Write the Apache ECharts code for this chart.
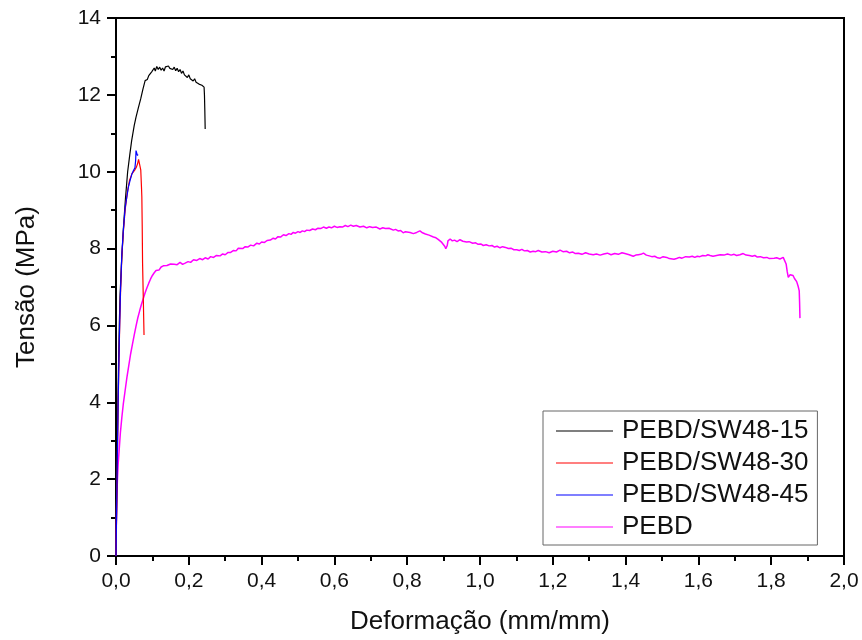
<!DOCTYPE html>
<html>
<head>
<meta charset="utf-8">
<script src="https://cdn.jsdelivr.net/npm/echarts@6/dist/echarts.min.js"></script>
<style>html,body{margin:0;padding:0;background:#fff;}#c{width:862px;height:640px;}</style>
</head>
<body>
<div id="c"></div>
<script>
const seriesNames = ['PEBD/SW48-15', 'PEBD/SW48-30', 'PEBD/SW48-45', 'PEBD'];
const xTicks = [0, 0.2, 0.4, 0.6, 0.8, 1.0, 1.2, 1.4, 1.6, 1.8, 2.0];
const yTicks = [0, 2, 4, 6, 8, 10, 12, 14];

const pebdSW15 = [[0,0],[0.002,1.5],[0.003,2.5],[0.005,3.8],[0.007,5.0],[0.009,6.0],[0.011,6.74],[0.015,7.6],[0.020,8.48],[0.026,9.3],[0.032,10.0],[0.038,10.45],[0.043,10.81],[0.05,11.2],[0.055,11.42],[0.061,11.65],[0.068,11.9],[0.074,12.15],[0.080,12.37],[0.083,12.42],[0.086,12.4],[0.09,12.5],[0.094,12.47],[0.098,12.6],[0.101,12.55],[0.105,12.7],[0.108,12.62],[0.112,12.74],[0.116,12.66],[0.12,12.72],[0.124,12.64],[0.128,12.7],[0.132,12.62],[0.136,12.73],[0.14,12.68],[0.144,12.75],[0.148,12.69],[0.152,12.74],[0.156,12.66],[0.16,12.72],[0.164,12.63],[0.168,12.69],[0.172,12.6],[0.176,12.66],[0.18,12.56],[0.184,12.62],[0.188,12.52],[0.192,12.55],[0.196,12.45],[0.2,12.52],[0.204,12.42],[0.208,12.46],[0.212,12.36],[0.216,12.42],[0.22,12.33],[0.224,12.37],[0.228,12.28],[0.232,12.33],[0.236,12.25],[0.240,12.28],[0.242,12.2],[0.243,12.0],[0.244,11.6],[0.245,11.11]];

const pebdSW30 = [[0,0],[0.003,2],[0.006,4],[0.009,5.5],[0.012,6.7],[0.016,7.79],[0.02,8.4],[0.025,9.0],[0.031,9.45],[0.037,9.77],[0.044,9.95],[0.052,10.05],[0.056,10.12],[0.059,10.2],[0.062,10.32],[0.064,10.36],[0.066,10.3],[0.068,10.05],[0.070,9.6],[0.071,9.34],[0.072,8.6],[0.073,7.62],[0.075,6.7],[0.077,5.75]];

const pebdSW45 = [[0,0],[0.003,2.1],[0.006,4.1],[0.009,5.6],[0.012,6.8],[0.016,7.85],[0.02,8.45],[0.025,9.05],[0.029,9.3],[0.034,9.6],[0.038,9.75],[0.044,9.95],[0.048,10.03],[0.052,10.1],[0.054,10.3],[0.055,10.55],[0.057,10.6],[0.059,10.42],[0.06,10.45]];

const pebd = [[0,0],[0.001,0.9],[0.002,1.5],[0.004,2.0],[0.006,2.4],[0.009,2.8],[0.012,3.2],[0.016,3.6],[0.020,3.95],[0.025,4.3],[0.030,4.65],[0.035,4.95],[0.040,5.25],[0.045,5.5],[0.050,5.75],[0.055,5.98],[0.060,6.2],[0.065,6.38],[0.070,6.55],[0.075,6.7],[0.080,6.85],[0.085,6.98],[0.090,7.1],[0.095,7.21],[0.100,7.3],[0.105,7.37],[0.110,7.43],[0.115,7.46],[0.118,7.44],[0.124,7.52],[0.130,7.55],[0.135,7.5],[0.140,7.56],[0.145,7.53],[0.150,7.6],[0.155,7.55],[0.160,7.59],[0.168,7.58],[0.176,7.64],[0.183,7.59],[0.19,7.62],[0.198,7.66],[0.205,7.64],[0.213,7.71],[0.222,7.69],[0.23,7.74],[0.238,7.71],[0.245,7.76],[0.253,7.73],[0.26,7.79],[0.268,7.77],[0.276,7.82],[0.286,7.81],[0.293,7.86],[0.30,7.84],[0.308,7.9],[0.315,7.9],[0.323,7.95],[0.33,7.94],[0.336,8.01],[0.341,8.03],[0.348,8.0],[0.355,8.05],[0.362,8.04],[0.37,8.09],[0.378,8.07],[0.387,8.14],[0.394,8.12],[0.40,8.17],[0.408,8.16],[0.415,8.21],[0.424,8.22],[0.432,8.27],[0.438,8.25],[0.445,8.31],[0.452,8.3],[0.460,8.36],[0.467,8.34],[0.475,8.39],[0.481,8.37],[0.487,8.42],[0.493,8.4],[0.50,8.44],[0.506,8.42],[0.512,8.46],[0.518,8.44],[0.524,8.48],[0.532,8.47],[0.54,8.51],[0.548,8.49],[0.555,8.53],[0.562,8.52],[0.570,8.56],[0.578,8.53],[0.585,8.56],[0.592,8.54],[0.60,8.58],[0.607,8.55],[0.615,8.57],[0.622,8.56],[0.63,8.6],[0.637,8.57],[0.645,8.61],[0.652,8.58],[0.66,8.6],[0.67,8.56],[0.68,8.58],[0.689,8.54],[0.697,8.57],[0.705,8.55],[0.715,8.56],[0.725,8.51],[0.733,8.54],[0.74,8.52],[0.75,8.53],[0.762,8.48],[0.768,8.5],[0.775,8.46],[0.782,8.47],[0.789,8.41],[0.795,8.44],[0.80,8.43],[0.808,8.42],[0.817,8.39],[0.826,8.42],[0.835,8.46],[0.842,8.41],[0.85,8.38],[0.86,8.35],[0.872,8.30],[0.879,8.28],[0.885,8.24],[0.89,8.2],[0.895,8.16],[0.9,8.12],[0.903,8.06],[0.906,8.0],[0.908,7.95],[0.91,8.08],[0.912,8.2],[0.918,8.25],[0.924,8.2],[0.93,8.22],[0.937,8.18],[0.945,8.23],[0.953,8.19],[0.963,8.17],[0.97,8.18],[0.98,8.14],[0.988,8.15],[0.995,8.11],[1.002,8.12],[1.009,8.08],[1.017,8.1],[1.025,8.07],[1.033,8.08],[1.04,8.04],[1.047,8.06],[1.055,8.02],[1.062,8.05],[1.07,8.03],[1.078,8.0],[1.085,8.01],[1.093,7.97],[1.101,7.97],[1.108,7.95],[1.115,7.98],[1.122,7.94],[1.13,7.95],[1.138,7.91],[1.146,7.93],[1.153,7.92],[1.16,7.95],[1.17,7.91],[1.18,7.92],[1.19,7.89],[1.2,7.93],[1.21,7.91],[1.22,7.96],[1.228,7.92],[1.238,7.93],[1.246,7.89],[1.255,7.91],[1.262,7.87],[1.27,7.88],[1.28,7.85],[1.29,7.89],[1.3,7.86],[1.311,7.84],[1.32,7.86],[1.33,7.83],[1.34,7.86],[1.35,7.88],[1.36,7.84],[1.37,7.87],[1.38,7.85],[1.39,7.89],[1.398,7.87],[1.41,7.84],[1.421,7.80],[1.428,7.83],[1.435,7.84],[1.442,7.85],[1.449,7.88],[1.457,7.83],[1.465,7.81],[1.472,7.79],[1.48,7.8],[1.488,7.76],[1.495,7.75],[1.503,7.79],[1.513,7.77],[1.52,7.74],[1.525,7.77],[1.533,7.72],[1.540,7.74],[1.548,7.77],[1.555,7.75],[1.565,7.79],[1.575,7.78],[1.583,7.8],[1.59,7.77],[1.597,7.8],[1.604,7.79],[1.612,7.82],[1.62,7.81],[1.626,7.84],[1.632,7.82],[1.64,7.8],[1.65,7.82],[1.66,7.84],[1.67,7.83],[1.68,7.86],[1.69,7.83],[1.698,7.85],[1.705,7.82],[1.714,7.84],[1.723,7.87],[1.731,7.83],[1.74,7.82],[1.748,7.8],[1.755,7.82],[1.762,7.78],[1.77,7.79],[1.779,7.76],[1.788,7.77],[1.795,7.74],[1.80,7.78],[1.808,7.75],[1.815,7.76],[1.824,7.73],[1.833,7.77],[1.838,7.72],[1.841,7.6],[1.844,7.4],[1.847,7.25],[1.852,7.32],[1.856,7.36],[1.86,7.3],[1.864,7.22],[1.87,7.14],[1.874,7.02],[1.877,6.9],[1.878,6.6],[1.879,6.19]];

const seriesData = [pebdSW15, pebdSW30, pebdSW45, pebd];
const seriesColors = ['#000000', '#ff0000', '#0000ff', '#ff00ff'];
const seriesWidths = [1.2, 1.2, 1.2, 1.5];

const chart = echarts.init(document.getElementById('c'), null, {renderer: 'canvas'});
const FONT = 'Liberation Sans, Arial, sans-serif';
const fmt = v => v.toFixed(1).replace('.', ',');

chart.setOption({
  animation: false,
  backgroundColor: '#ffffff',
  grid: {left: 116, right: 18, top: 18, bottom: 83, show: true, borderColor: '#000', borderWidth: 2, containLabel: false},
  legend: {
    orient: 'vertical', left: 543, top: 411,
    padding: [6, 9, 4, 13], itemGap: 4, itemWidth: 57, itemHeight: 1,
    backgroundColor: '#fff', borderColor: '#666', borderWidth: 1, borderRadius: 0,
    textStyle: {fontFamily: FONT, fontSize: 26, color: '#111', lineHeight: 28, padding: [0,0,0,4]},
    data: seriesNames.map(n => ({name: n, icon: 'rect'}))
  },
  xAxis: {
    type: 'value', min: 0, max: 2, interval: 0.2,
    name: 'Deformação (mm/mm)', nameLocation: 'middle', nameGap: 53,
    nameTextStyle: {fontFamily: FONT, fontSize: 26, color: '#111'},
    axisLine: {show: true, onZero: false, lineStyle: {color: '#000', width: 2}},
    axisTick: {show: true, inside: false, length: 9, lineStyle: {color: '#000', width: 2}},
    minorTick: {show: true, splitNumber: 2, length: 5, lineStyle: {color: '#000', width: 2}},
    splitLine: {show: false},
    axisLabel: {fontFamily: FONT, fontSize: 21, color: '#111', margin: 15, formatter: v => fmt(v)}
  },
  yAxis: {
    type: 'value', min: 0, max: 14, interval: 2,
    name: 'Tensão (MPa)', nameLocation: 'middle', nameGap: 76, nameRotate: 90,
    nameTextStyle: {fontFamily: FONT, fontSize: 26, color: '#111'},
    axisLine: {show: true, onZero: false, lineStyle: {color: '#000', width: 2}},
    axisTick: {show: true, inside: false, length: 9, lineStyle: {color: '#000', width: 2}},
    minorTick: {show: true, splitNumber: 2, length: 5, lineStyle: {color: '#000', width: 2}},
    splitLine: {show: false},
    axisLabel: {fontFamily: FONT, fontSize: 21, color: '#111', margin: 15, formatter: v => String(v)}
  },
  series: seriesNames.map((n, i) => ({
    name: n, type: 'line', data: seriesData[i], showSymbol: false, symbol: 'none',
    lineStyle: {color: seriesColors[i], width: seriesWidths[i]}, itemStyle: {color: seriesColors[i]},
    z: i === 3 ? 1 : 2 + i
  }))
});
</script>
</body>
</html>
